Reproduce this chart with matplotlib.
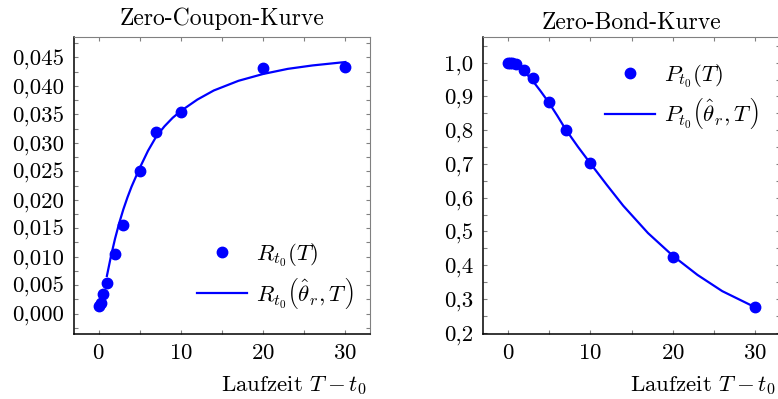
import numpy as np
import matplotlib
matplotlib.use("Agg")
import matplotlib.pyplot as plt
from matplotlib import ticker
from matplotlib.font_manager import FontProperties
from matplotlib.mathtext import MathTextParser

plt.rcParams["font.family"] = "cmr10"
plt.rcParams["mathtext.fontset"] = "cm"
plt.rcParams["axes.unicode_minus"] = False
plt.rcParams["axes.formatter.use_mathtext"] = True

# Marktdaten (Laufzeiten in Jahren)
laufzeit = [0.083, 0.25, 0.5, 1, 2, 3, 5, 7, 10, 20, 30]
zins = [0.0013, 0.0018, 0.0034, 0.0053, 0.0104, 0.0156, 0.0250, 0.0319, 0.0354, 0.0431, 0.0434]
bond = [0.9999, 0.9996, 0.9983, 0.9947, 0.979, 0.954, 0.883, 0.800, 0.703, 0.425, 0.275]

# Modellkurven
kurve_t = [1, 1.5, 2, 2.5, 3, 3.5, 4, 5, 6, 7, 8, 9, 10, 12, 14, 17, 20, 23, 26, 30]
kurve_r = [0.0066, 0.0101, 0.0132, 0.0159, 0.0183, 0.0204, 0.0223, 0.0256, 0.0286, 0.0311,
           0.0329, 0.0344, 0.0356, 0.0376, 0.0392, 0.0409, 0.0421, 0.0430, 0.0436, 0.0442]
kurve_pt = [1, 2, 3, 4, 5, 6, 7, 8.5, 10, 12, 14, 17, 20, 23, 26, 30]
kurve_p = [0.994, 0.974, 0.947, 0.915, 0.881, 0.843, 0.803, 0.751, 0.702, 0.638, 0.576,
           0.495, 0.428, 0.371, 0.323, 0.275]

BLUE = "#0000ff"
GRAY = "#808080"
FS = 16.5


def big_parens(sym):
    # LaTeX setzt hier grosse Klammern; nimm die hoechste Variante, die mathtext kann
    candidates = [
        rf"${sym}_{{t_0}}\Bigl(\hat{{\theta}}_r, T\Bigr)$",
        rf"${sym}_{{t_0}}\left(\hat{{\theta}}_r, T{{}}^{{{{}}^{{\,}}}}_{{{{}}_{{\,}}}}\!\right)$",
        rf"${sym}_{{t_0}}\left(\hat{{\theta}}_r, T^{{\,}}_{{\,}}\!\right)$",
        rf"${sym}_{{t_0}}\left(\hat{{\theta}}_r, T\right)$",
    ]
    parser = MathTextParser("path")
    prop = FontProperties(size=FS)
    best, best_h = candidates[-1], -1
    for s in candidates:
        try:
            r = parser.parse(s, dpi=72, prop=prop)
        except Exception:
            continue
        h = r.height + r.depth
        if h > best_h + 0.5 and h < 2.1 * FS:
            best, best_h = s, h
    return best


def style_axis(ax, ystep, yminor, ydec, xlab_x):
    ax.set_xlim(-3, 33)
    ax.xaxis.set_major_locator(ticker.MultipleLocator(10))
    ax.xaxis.set_minor_locator(ticker.MultipleLocator(5))
    ax.yaxis.set_major_locator(ticker.MultipleLocator(ystep))
    ax.yaxis.set_minor_locator(ticker.MultipleLocator(yminor))
    ax.yaxis.set_major_formatter(ticker.FuncFormatter(
        lambda v, p: f"{v:.{ydec}f}".replace("-", "").replace(".", ",")))
    ax.tick_params(which="both", direction="in", top=True, right=True, length=3.2,
                   width=0.8, color=GRAY, labelsize=FS, pad=7)
    for side in ("top", "right"):
        ax.spines[side].set_color(GRAY)
        ax.spines[side].set_linewidth(0.8)
    for side in ("left", "bottom"):
        ax.spines[side].set_color("black")
        ax.spines[side].set_linewidth(1.1)
    ax.set_xlabel(r"Laufzeit $T-t_0$", fontsize=FS, ha="right")
    ax.xaxis.set_label_coords(xlab_x, -0.135)


fig = plt.figure(figsize=(7.78, 3.99), dpi=100)
ax1 = fig.add_axes([74 / 778, 65 / 399, 296 / 778, 297 / 399])
ax2 = fig.add_axes([483 / 778, 65 / 399, 297 / 778, 297 / 399])

ax1.plot(laufzeit, zins, "o", color=BLUE, ms=7.5, zorder=3, label=r"$R_{t_0}(T)$")
ax1.plot(kurve_t, kurve_r, color=BLUE, lw=1.6, zorder=2, label=big_parens("R"))
ax1.set_ylim(-0.0036, 0.0486)
style_axis(ax1, 0.005, 0.0025, 3, 0.99)
ax1.set_title("Zero-Coupon-Kurve", fontsize=FS + 0.5, pad=9)
ax1.legend(loc="lower right", bbox_to_anchor=(1.0, 0.02), frameon=False, fontsize=FS,
           handlelength=2.2, handletextpad=0.4, borderaxespad=0.3, labelspacing=0.3)

ax2.plot(laufzeit, bond, "o", color=BLUE, ms=7.5, zorder=3, label=r"$P_{t_0}(T)$")
ax2.plot(kurve_pt, kurve_p, color=BLUE, lw=1.6, zorder=2, label=big_parens("P"))
ax2.set_ylim(0.196, 1.076)
style_axis(ax2, 0.1, 0.05, 1, 0.985)
ax2.set_title("Zero-Bond-Kurve", fontsize=FS + 0.5, pad=6)
ax2.legend(loc="upper right", bbox_to_anchor=(0.985, 0.97), frameon=False, fontsize=FS,
           handlelength=2.2, handletextpad=0.4, borderaxespad=0.3, labelspacing=0.3)

fig.savefig("out.png", dpi=100)
